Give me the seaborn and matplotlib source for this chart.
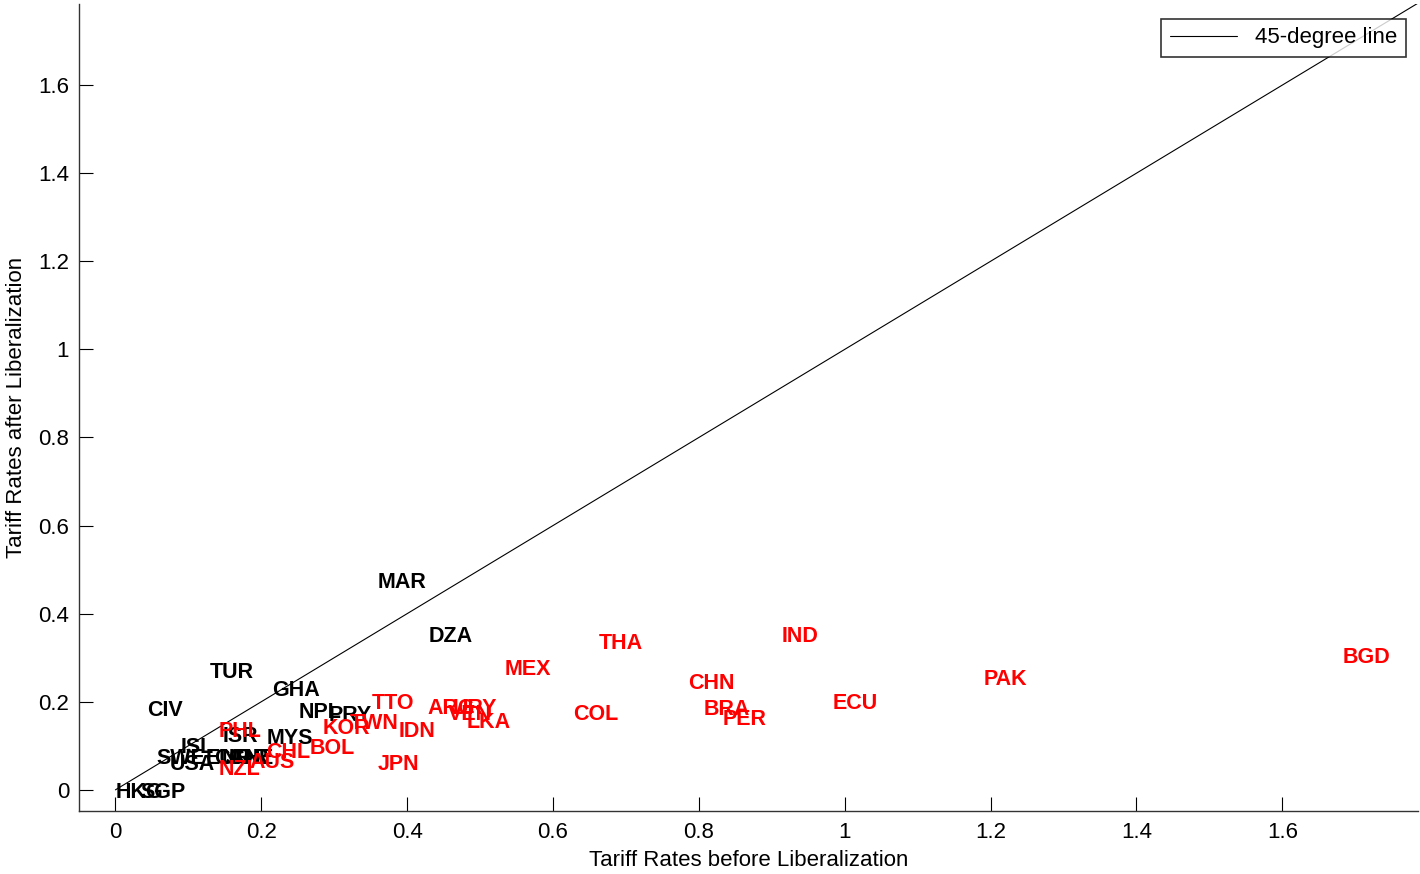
import matplotlib
matplotlib.use("Agg")
import matplotlib.pyplot as plt
import seaborn as sns
import pandas as pd

countries = ["MAR", "DZA", "TUR", "GHA", "CIV", "NPL", "PRY", "ISR", "MYS", "ISL",
             "SWE", "USA", "EUR", "CAN", "NOR", "CHE", "HKG", "SGP",
             "THA", "IND", "BGD", "MEX", "PAK", "CHN", "ECU", "TTO", "ARG", "URY",
             "VEN", "LKA", "COL", "BRA", "PER", "TWN", "KOR", "IDN", "PHL", "CHL",
             "BOL", "AUS", "NZL", "JPN"]
before = [0.360, 0.429, 0.130, 0.215, 0.044, 0.251, 0.293, 0.147, 0.208, 0.089,
          0.056, 0.075, 0.124, 0.135, 0.145, 0.155, 0.000, 0.034,
          0.663, 0.914, 1.682, 0.533, 1.191, 0.785, 0.984, 0.351, 0.428, 0.462,
          0.456, 0.481, 0.628, 0.806, 0.832, 0.321, 0.284, 0.388, 0.141, 0.206,
          0.266, 0.184, 0.141, 0.360]
after = [0.477, 0.354, 0.272, 0.231, 0.186, 0.182, 0.175, 0.127, 0.123, 0.102,
         0.077, 0.064, 0.077, 0.077, 0.077, 0.077, 0.000, 0.000,
         0.338, 0.354, 0.306, 0.279, 0.256, 0.247, 0.202, 0.202, 0.191, 0.191,
         0.177, 0.159, 0.177, 0.188, 0.166, 0.157, 0.145, 0.138, 0.138, 0.091,
         0.100, 0.068, 0.052, 0.064]
group = ["black"] * 18 + ["red"] * 24

diag = [0.0, 1.8]

df = pd.DataFrame({"country": countries, "before": before, "after": after, "group": group})

sns.set_style("white")
plt.rcParams["font.family"] = ["Liberation Sans", "DejaVu Sans"]
plt.rcParams["text.color"] = "black"
plt.rcParams["axes.labelcolor"] = "black"

fig = plt.figure(figsize=(14.2, 8.74), dpi=100)
ax = fig.add_axes([0.0556, 0.0721, 0.943, 0.9233])

sns.lineplot(x=diag, y=diag, ax=ax, color="black", linewidth=0.8, label="45-degree line")

for _, r in df.iterrows():
    ax.text(r["before"], r["after"], r["country"], color=("red" if r["group"] == "red" else "black"),
            fontsize=15.5, fontweight="bold", ha="left", va="center_baseline")

ax.set_xlim(-0.05, 1.786)
ax.set_ylim(-0.048, 1.784)
ticks = [0, 0.2, 0.4, 0.6, 0.8, 1.0, 1.2, 1.4, 1.6]
tick_labels = ["0", "0.2", "0.4", "0.6", "0.8", "1", "1.2", "1.4", "1.6"]
ax.set_xticks(ticks)
ax.set_xticklabels(tick_labels)
ax.set_yticks(ticks)
ax.set_yticklabels(tick_labels)
ax.tick_params(direction="in", length=10, width=0.8, labelsize=16, colors="black",
               bottom=True, left=True, top=False, right=False)
ax.tick_params(axis="x", pad=8)
ax.tick_params(axis="y", pad=7)
for s in ["top", "right"]:
    ax.spines[s].set_visible(False)
for s in ["left", "bottom"]:
    ax.spines[s].set_color("#333333")
    ax.spines[s].set_linewidth(1.0)

ax.set_xlabel("Tariff Rates before Liberalization", fontsize=16, labelpad=5)
ax.set_ylabel("Tariff Rates after Liberalization", fontsize=16, labelpad=8)

leg = ax.legend(loc="upper right", bbox_to_anchor=(0.991, 0.982), fontsize=16,
                frameon=True, fancybox=False, handlelength=3.0, borderpad=0.4,
                borderaxespad=0)
leg.get_frame().set_edgecolor("black")
leg.get_frame().set_linewidth(1.2)
for t in leg.get_texts():
    t.set_color("black")

fig.savefig("out.png", dpi=100)
